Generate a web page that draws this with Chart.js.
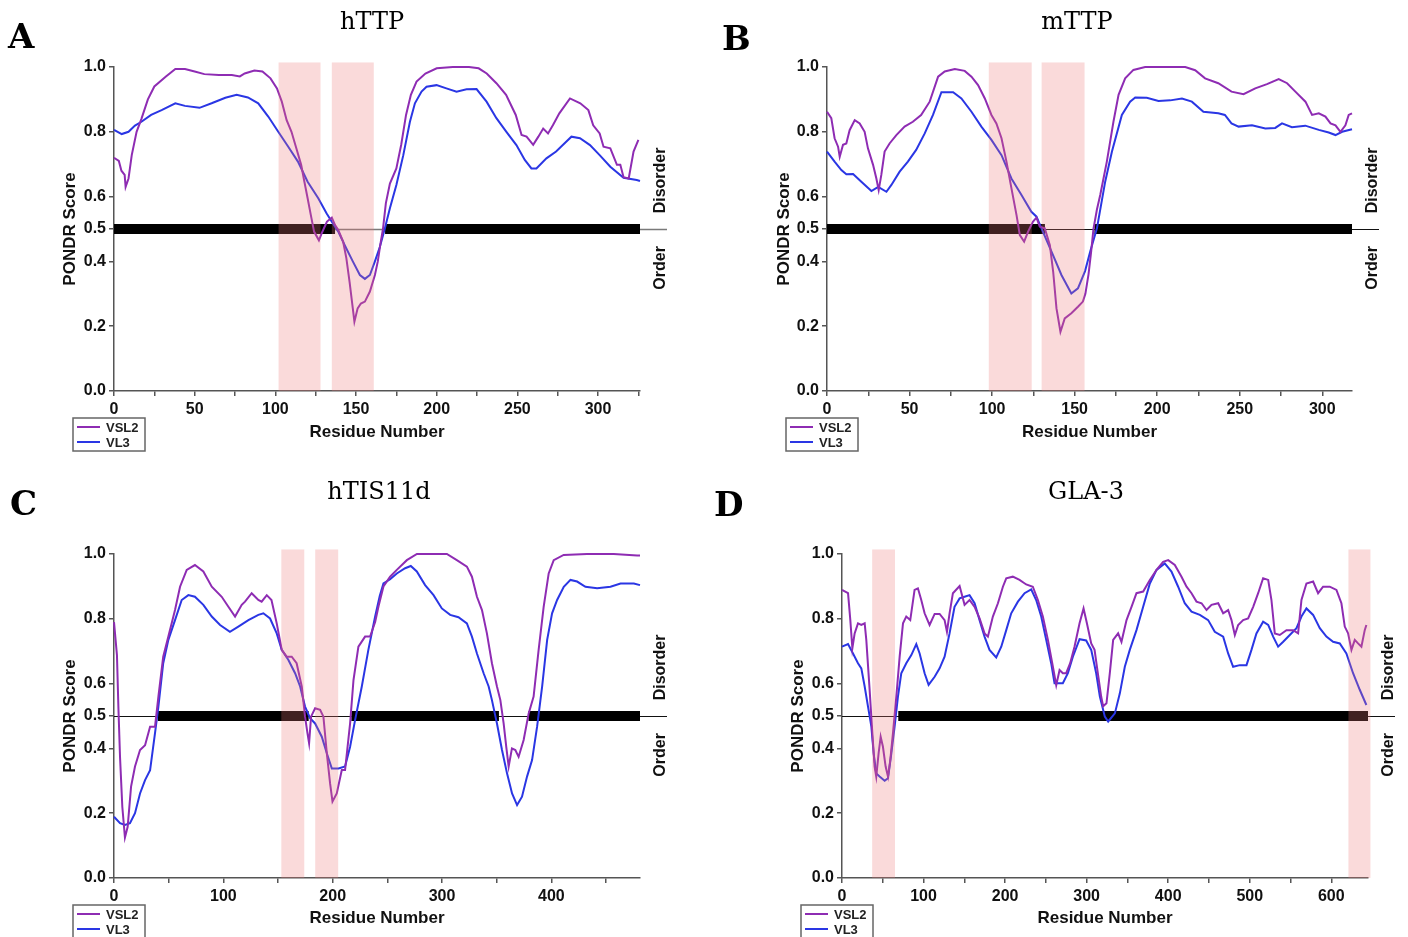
<!DOCTYPE html>
<html>
<head>
<meta charset="utf-8">
<script src="https://cdn.jsdelivr.net/npm/chart.js@4.4.1/dist/chart.umd.min.js"></script>
<style>
html,body{margin:0;padding:0;background:#fff;}
#wrap{position:relative;width:1408px;height:937px;overflow:hidden;background:#fff;}
#wrap canvas{position:absolute;}
</style>
</head>
<body>
<div id="wrap">
<canvas id="cA" width="704" height="468" style="left:0px;top:0px"></canvas>
<canvas id="cB" width="704" height="468" style="left:704px;top:0px"></canvas>
<canvas id="cC" width="704" height="469" style="left:0px;top:468px"></canvas>
<canvas id="cD" width="704" height="469" style="left:704px;top:468px"></canvas>
</div>
<script>
// ---------------- DATA ----------------
const SERIES_NAMES = ['VSL2', 'VL3'];
const Y_TICKS = [0, 0.2, 0.4, 0.5, 0.6, 0.8, 1.0];
const THRESHOLD = 0.5;
const SIDE_LABELS = ['Disorder', 'Order'];

// Panel A: hTTP
const hTTP_length = 326;
const hTTP_xTicks = [0, 50, 100, 150, 200, 250, 300];
const hTTP_vsl2_res = [0,3,4.6,6.6,7.2,9,11,14,17,21,25,32,38,44,50,56,65,73,78,81,87,92,97,101,104,107,110,113,116,118,120,122,124,127,129,132,135,137,139,142,144,146,148,149,151,153,155.5,158.6,161.7,163.5,165,166.7,168.5,171,175,178,181,184,187.5,193,200,210,220,226,231,237,243,249,252.6,255.7,259.8,263,266,269,272,276,282.6,289,294,297,301,303.4,307.6,311.7,313.8,315.8,319,322,325];
const hTTP_vsl2 = [0.72,0.71,0.68,0.667,0.63,0.656,0.728,0.80,0.84,0.90,0.94,0.97,0.994,0.994,0.986,0.978,0.975,0.975,0.971,0.98,0.989,0.986,0.965,0.934,0.893,0.836,0.80,0.749,0.698,0.646,0.595,0.543,0.492,0.465,0.49,0.523,0.535,0.512,0.497,0.461,0.41,0.337,0.255,0.214,0.255,0.27,0.276,0.307,0.358,0.40,0.45,0.50,0.58,0.64,0.687,0.76,0.852,0.914,0.955,0.98,0.996,1.0,1.0,0.996,0.98,0.95,0.914,0.852,0.79,0.785,0.76,0.785,0.81,0.795,0.82,0.857,0.903,0.888,0.867,0.82,0.795,0.754,0.749,0.698,0.698,0.66,0.656,0.739,0.775];
const hTTP_vl3_res = [0,4.8,9,13,17,23,29.5,38,44,53,60.5,69,76,83,89.4,95.6,101.8,108,114,120,126.6,131.8,134.9,139,143,148,152.4,155.5,158.6,161.7,164.8,167.9,171,175,179.3,183.4,186.5,190.6,193.7,199.9,206,212.3,218.5,224.7,230.9,237,243.2,249.4,254.6,258.7,261.8,268,274,280.4,283.5,288.8,295,301,307.6,315.8,324,326];
const hTTP_vl3 = [0.806,0.793,0.80,0.819,0.831,0.852,0.867,0.888,0.88,0.874,0.888,0.905,0.914,0.906,0.888,0.847,0.80,0.754,0.708,0.646,0.595,0.548,0.523,0.492,0.45,0.40,0.358,0.346,0.358,0.40,0.445,0.502,0.564,0.636,0.728,0.831,0.888,0.924,0.939,0.944,0.934,0.924,0.931,0.932,0.893,0.842,0.80,0.759,0.713,0.687,0.687,0.718,0.739,0.77,0.785,0.78,0.759,0.728,0.692,0.658,0.651,0.648];
const hTTP_bands = [[102,128],[135,161]];
const hTTP_disorder = [[0,137],[168,326]];

// Panel B: mTTP
const mTTP_length = 318;
const mTTP_xTicks = [0, 50, 100, 150, 200, 250, 300];
const mTTP_vsl2_res = [0,2.6,4.6,6.7,7.7,9.7,11.7,13.7,16.8,19.8,22.8,24.8,27.9,29.9,31.3,32.9,34.9,37.9,42,47,52,57,62.2,67.3,71.3,77.4,83.4,87.5,91.5,95.6,99.6,102.6,105.7,108.7,111.7,114.8,116.8,119.4,121.8,124.8,126.9,128.9,131.9,135,137,139,141.4,144,148,152,155,156.5,158.4,160,161.4,163.5,165.5,169.5,173.5,176.6,180.6,185.6,192.7,207,217,223,229,237,245,252.3,259.4,266.5,273.6,278.7,283.7,289.8,293.8,297.9,301.9,305,308,311,314,316,318];
const mTTP_vsl2 = [0.862,0.842,0.78,0.754,0.723,0.76,0.764,0.805,0.836,0.826,0.80,0.749,0.698,0.656,0.62,0.667,0.739,0.764,0.79,0.816,0.831,0.852,0.893,0.97,0.986,0.994,0.988,0.97,0.944,0.903,0.852,0.826,0.78,0.708,0.626,0.543,0.481,0.461,0.492,0.523,0.535,0.507,0.502,0.45,0.368,0.255,0.183,0.224,0.24,0.26,0.276,0.30,0.36,0.43,0.50,0.56,0.605,0.708,0.831,0.914,0.965,0.991,1.0,1.0,1.0,0.99,0.965,0.95,0.924,0.916,0.934,0.947,0.963,0.95,0.924,0.893,0.852,0.857,0.847,0.826,0.82,0.80,0.82,0.852,0.857];
const mTTP_vl3_res = [0,4.6,8.7,11.7,15.8,20.8,26.9,31,36,39,44,49,54,59.2,64.2,69.3,76.4,81.4,87.5,93.5,99.6,105.7,111.7,117.8,123.8,126.9,129.9,136,142,148,152,156.3,159.4,163.5,168.5,172.6,178.6,183.6,186.7,193.7,200.8,207.9,215,221,228,237,241,245,249.3,257.4,265.5,271.5,275.6,281.6,289.7,297.9,303.9,308,312,318];
const mTTP_vl3 = [0.739,0.708,0.682,0.669,0.67,0.646,0.617,0.63,0.615,0.636,0.677,0.708,0.744,0.795,0.852,0.922,0.922,0.903,0.862,0.816,0.775,0.728,0.656,0.605,0.553,0.538,0.502,0.43,0.358,0.301,0.317,0.37,0.43,0.502,0.646,0.739,0.852,0.893,0.906,0.905,0.895,0.897,0.903,0.893,0.862,0.857,0.852,0.826,0.816,0.82,0.81,0.812,0.826,0.814,0.819,0.806,0.798,0.79,0.80,0.808];
const mTTP_bands = [[98,124],[130,156]];
const mTTP_disorder = [[0,132],[162,318]];

// Panel C: hTIS11d
const hTIS11d_length = 481;
const hTIS11d_xTicks = [0, 100, 200, 300, 400];
const hTIS11d_vsl2_res = [0,2.7,4,5.5,7.6,10,12.5,15.6,19.2,23.8,28.4,33,37.5,40.6,45,49.7,55.8,60.4,66.5,74,81.7,89.4,98.5,104.6,110.7,116.8,119.8,125.9,132,135,139.7,144,148.8,153.4,157.9,162.5,167,171.7,174.7,176.9,178.4,180.2,183.9,188.5,191.5,194.6,197.6,199.8,203.7,208.3,211.3,215.9,219,223.5,229.6,234.2,238.8,242,246.4,252.5,258.6,267.8,277,289,304.4,313.5,322.7,327.3,331.9,336.5,341,345.6,350.2,353.3,356.3,358.7,360.9,363.9,367,370,374.6,379.2,383.7,388.3,392.9,397.5,402.1,411.2,432.6,457,478.4,481];
const hTIS11d_vsl2 = [0.79,0.688,0.529,0.374,0.22,0.125,0.158,0.282,0.344,0.395,0.41,0.467,0.467,0.56,0.683,0.745,0.827,0.899,0.951,0.966,0.946,0.899,0.868,0.837,0.807,0.843,0.853,0.879,0.858,0.853,0.873,0.858,0.786,0.704,0.683,0.683,0.663,0.591,0.498,0.447,0.416,0.498,0.524,0.519,0.498,0.385,0.292,0.236,0.261,0.333,0.333,0.477,0.611,0.714,0.745,0.745,0.79,0.84,0.90,0.93,0.951,0.981,1.0,1.0,1.0,0.981,0.961,0.93,0.868,0.827,0.755,0.663,0.591,0.549,0.477,0.405,0.344,0.40,0.395,0.374,0.426,0.508,0.56,0.704,0.837,0.94,0.981,0.997,1.0,1.0,0.995,0.995];
const hTIS11d_vl3_res = [0,5.5,10,14.6,19.2,23.8,28.4,33,37.5,40.6,45,49.7,55.8,61.9,68,74,81.7,89.4,97,106,113.7,122.9,132,136.6,142.7,148.8,153.4,159.5,165.6,170.2,174.7,179.3,183.9,190,194.6,199.2,205.3,211.3,215.9,220.5,226.6,232.6,238.8,243,246.4,252.5,258.6,266.2,271.4,276.9,284.5,292.2,299.8,307.4,315,322.7,327.3,331.9,338,342.6,345.6,350.2,354.8,359.4,364,368.6,373.1,377.7,382.3,386.9,391.5,396.1,400.6,405.2,411.3,417.4,423.5,431.1,441.8,454,463.2,475.4,481];
const hTIS11d_vl3 = [0.189,0.169,0.164,0.169,0.20,0.261,0.302,0.333,0.447,0.529,0.663,0.735,0.796,0.858,0.873,0.868,0.843,0.807,0.781,0.76,0.776,0.796,0.812,0.817,0.801,0.755,0.704,0.673,0.632,0.591,0.529,0.493,0.477,0.436,0.385,0.338,0.338,0.344,0.405,0.488,0.591,0.704,0.807,0.87,0.909,0.922,0.94,0.956,0.963,0.946,0.904,0.873,0.832,0.812,0.805,0.786,0.745,0.693,0.632,0.591,0.549,0.477,0.395,0.323,0.261,0.225,0.251,0.313,0.364,0.467,0.591,0.735,0.817,0.858,0.899,0.92,0.915,0.899,0.894,0.899,0.909,0.909,0.904];
const hTIS11d_bands = [[153,174],[184,205]];
const hTIS11d_disorder = [[40,178],[217,352],[379,481]];

// Panel D: GLA-3
const GLA3_length = 645;
const GLA3_xTicks = [0, 100, 200, 300, 400, 500, 600];
const GLA3_vsl2_res = [0,7.4,10.2,12.7,15.5,19.6,23.7,27.8,29.8,33.9,37.2,40,42,44.9,47.4,50.2,53.5,56.4,59.2,62.5,66.6,70.7,74.8,78.8,83.7,89,93.1,97.2,101.3,107.4,113.6,119.7,125.8,128.7,131.9,136,144.2,150.3,156.4,162.6,168.7,174.8,178.9,185,191.2,197.3,201.4,209.5,217.7,225.9,234,240.2,246.3,252.5,258.6,262.7,266.8,270.8,274.9,279.8,285.1,291.3,296.2,300.3,305.6,309.7,313.7,317.8,320.2,324.3,328.4,332.5,338.6,342.7,348.9,355,361.1,369.3,377.5,385.7,393.8,400,408.1,416.3,422.5,428.6,434.7,440.9,447,453.1,461.3,467.4,473.5,477.6,481.7,485.8,491.9,498,504.2,510.3,516.4,522.6,526.6,530.7,536.8,545,553.2,559.3,563.4,569.5,577.7,583.8,589.9,598.1,606.3,612.4,616.5,620.6,624.7,628.8,632.8,636.9,641,643];
const GLA3_vsl2 = [0.889,0.879,0.796,0.709,0.755,0.786,0.781,0.786,0.735,0.58,0.447,0.344,0.313,0.385,0.436,0.405,0.344,0.313,0.364,0.447,0.56,0.683,0.786,0.807,0.796,0.889,0.894,0.858,0.817,0.781,0.815,0.815,0.796,0.76,0.817,0.879,0.901,0.843,0.858,0.837,0.801,0.755,0.745,0.807,0.848,0.899,0.925,0.93,0.92,0.906,0.899,0.858,0.807,0.735,0.652,0.595,0.642,0.632,0.632,0.663,0.714,0.786,0.832,0.786,0.724,0.704,0.632,0.56,0.53,0.539,0.632,0.735,0.755,0.729,0.796,0.837,0.879,0.884,0.92,0.951,0.976,0.981,0.966,0.93,0.899,0.879,0.853,0.848,0.827,0.843,0.848,0.817,0.827,0.796,0.75,0.781,0.796,0.801,0.837,0.879,0.925,0.92,0.858,0.755,0.75,0.765,0.765,0.755,0.858,0.909,0.915,0.879,0.899,0.899,0.889,0.848,0.776,0.755,0.704,0.735,0.724,0.714,0.765,0.781];
const GLA3_vl3_res = [0,7.4,13.5,19.6,23.7,27.8,31.9,36,38.8,42,46.1,52.3,56.4,60.5,64.5,68.6,72.7,78.8,85,91.1,95.2,101.3,106.2,113.6,119.7,125.8,131.9,138,144.2,150.3,156.4,162.6,168.7,174.8,180.9,189.1,195.3,201.4,207.5,215.7,223.9,232,238.1,244.3,250.4,256.5,260.6,270.8,277,283.1,291.3,299.4,305.6,311.7,316.2,322.3,326.4,334.6,340.7,346.8,352.9,361.1,369.3,377.5,385.7,395.8,404,412.2,420.3,428.6,438.8,449,457.1,467.4,473.5,479.6,487.8,496,502.1,508.2,516.4,522.6,528.7,534.8,541,549.1,557.3,563.4,569.5,577.7,585.9,594,602.2,610.4,618.5,626.7,634.9,643];
const GLA3_vl3 = [0.714,0.722,0.693,0.663,0.647,0.591,0.529,0.467,0.385,0.323,0.313,0.30,0.308,0.385,0.467,0.56,0.632,0.663,0.688,0.722,0.693,0.632,0.596,0.621,0.647,0.683,0.755,0.837,0.863,0.868,0.873,0.848,0.796,0.745,0.704,0.681,0.714,0.765,0.817,0.853,0.879,0.891,0.858,0.807,0.735,0.663,0.601,0.601,0.632,0.683,0.737,0.733,0.704,0.632,0.56,0.498,0.483,0.508,0.57,0.652,0.704,0.765,0.837,0.909,0.951,0.971,0.946,0.899,0.848,0.822,0.812,0.796,0.76,0.745,0.693,0.652,0.657,0.657,0.704,0.755,0.791,0.781,0.745,0.714,0.729,0.75,0.771,0.807,0.832,0.812,0.771,0.745,0.729,0.724,0.693,0.632,0.581,0.534];
const GLA3_bands = [[37,65],[621,648]];
const GLA3_disorder = [[69,645]];

// ---------------- STYLE / LAYOUT ----------------
const COLOR_VSL2 = '#8e2cb3';
const COLOR_VL3 = '#2a36e4';
const SANS = '"Liberation Sans", Arial, Helvetica, sans-serif';
const SERIF = '"DejaVu Serif", "Liberation Serif", serif';
const BAND_TOP = 1.014;

const panels = [
  { id:'cA', letter:'A', title:'hTTP', len:hTTP_length, majors:hTTP_xTicks, step:25,
    vsl2:[hTTP_vsl2_res,hTTP_vsl2], vl3:[hTTP_vl3_res,hTTP_vl3], bands:hTTP_bands, dis:hTTP_disorder,
    cv:{left:0,top:0,w:704,h:468}, area:{l:114,r:640,t:67,b:391}, yTitleX:70, xTitleY:432,
    letterPos:[8,48], titlePos:[372,29], thresh:['#7a7a7a',1.5] },
  { id:'cB', letter:'B', title:'mTTP', len:mTTP_length, majors:mTTP_xTicks, step:25,
    vsl2:[mTTP_vsl2_res,mTTP_vsl2], vl3:[mTTP_vl3_res,mTTP_vl3], bands:mTTP_bands, dis:mTTP_disorder,
    cv:{left:704,top:0,w:704,h:468}, area:{l:827,r:1352,t:67,b:391}, yTitleX:784, xTitleY:432,
    letterPos:[722,50], titlePos:[1077,29], thresh:['#111',1] },
  { id:'cC', letter:'C', title:'hTIS11d', len:hTIS11d_length, majors:hTIS11d_xTicks, step:50,
    vsl2:[hTIS11d_vsl2_res,hTIS11d_vsl2], vl3:[hTIS11d_vl3_res,hTIS11d_vl3], bands:hTIS11d_bands, dis:hTIS11d_disorder,
    cv:{left:0,top:468,w:704,h:469}, area:{l:114,r:640,t:554,b:878}, yTitleX:70, xTitleY:918,
    letterPos:[10,515], titlePos:[379,499], thresh:['#111',1] },
  { id:'cD', letter:'D', title:'GLA-3', len:GLA3_length, majors:GLA3_xTicks, step:50,
    vsl2:[GLA3_vsl2_res,GLA3_vsl2], vl3:[GLA3_vl3_res,GLA3_vl3], bands:GLA3_bands, dis:GLA3_disorder,
    cv:{left:704,top:468,w:704,h:469}, area:{l:842,r:1368,t:554,b:878}, yTitleX:798, xTitleY:918,
    letterPos:[714,516], titlePos:[1086,499], thresh:['#111',1] }
];

const decor = {
  id: 'decor',
  beforeDatasetsDraw(chart, _args, o) {
    const {ctx, chartArea: a, scales: {y}} = chart;
    const yy = Math.round(y.getPixelForValue(THRESHOLD)) + 0.5;
    ctx.save();
    ctx.strokeStyle = o.threshColor; ctx.lineWidth = o.threshWidth;
    ctx.beginPath(); ctx.moveTo(a.left, yy); ctx.lineTo(a.right + 27, yy); ctx.stroke();
    ctx.restore();
  },
  afterDatasetsDraw(chart, _args, o) {
    const {ctx, chartArea: a, scales: {x, y}} = chart;
    ctx.save();
    // highlighted regions
    ctx.fillStyle = 'rgba(236,120,120,0.27)';
    const yt = y.getPixelForValue(BAND_TOP), yb = y.getPixelForValue(0);
    for (const [s, e] of o.bands) {
      const x0 = x.getPixelForValue(s), x1 = x.getPixelForValue(e);
      ctx.fillRect(x0, yt, x1 - x0, yb - yt);
    }
    // side labels
    ctx.fillStyle = '#111';
    ctx.font = 'bold 16px ' + SANS;
    ctx.textAlign = 'center'; ctx.textBaseline = 'middle';
    const sx = a.right + 21;
    [[SIDE_LABELS[0], 0.65], [SIDE_LABELS[1], 0.38]].forEach(([t, v]) => {
      ctx.save(); ctx.translate(sx, y.getPixelForValue(v)); ctx.rotate(-Math.PI / 2);
      ctx.fillText(t, 0, 0); ctx.restore();
    });
    // legend box
    const lx = a.left - 41, ly = a.bottom + 27;
    ctx.strokeStyle = '#666'; ctx.lineWidth = 1.5;
    ctx.strokeRect(lx, ly, 72, 33);
    const cols = [COLOR_VSL2, COLOR_VL3];
    ctx.font = 'bold 13px ' + SANS; ctx.textAlign = 'left';
    SERIES_NAMES.forEach((n, i) => {
      const yy = ly + 9 + i * 15;
      ctx.strokeStyle = cols[i]; ctx.lineWidth = 2;
      ctx.beginPath(); ctx.moveTo(lx + 4, yy); ctx.lineTo(lx + 27, yy); ctx.stroke();
      ctx.fillStyle = '#222'; ctx.fillText(n, lx + 33, yy + 1);
    });
    // panel letter and title
    ctx.fillStyle = '#000';
    ctx.textBaseline = 'alphabetic'; ctx.textAlign = 'left';
    ctx.font = 'bold 34px ' + SERIF;
    ctx.fillText(o.letter, o.letterX, o.letterY);
    ctx.textAlign = 'center';
    ctx.font = '24px ' + SERIF;
    ctx.fillText(o.title, o.titleX, o.titleY);
    ctx.restore();
  }
};

function toXY(res, vals) { return res.map((r, i) => ({x: r, y: vals[i]})); }
function barData(segs) {
  const out = [];
  segs.forEach(([s, e]) => { out.push({x: s, y: THRESHOLD}, {x: e, y: THRESHOLD}, {x: e, y: null}); });
  return out;
}

panels.forEach(p => {
  const c = p.cv;
  const aL = p.area.l - c.left, aR = p.area.r - c.left, aT = p.area.t - c.top, aB = p.area.b - c.top;
  const titleHalf = 17 * 1.2 / 2;
  const padLeft = (p.yTitleX - c.left) - titleHalf;
  const yW = aL - padLeft;
  const xBottom = (p.xTitleY - c.top) + titleHalf;
  const xH = xBottom - aB;
  const padBottom = c.h - xBottom;
  const axisCommon = {
    grid: { drawOnChartArea: false, drawTicks: true, tickLength: 5, color: '#555', lineWidth: 1.5 },
    border: { display: true, color: '#555', width: 1.5 }
  };
  new Chart(document.getElementById(p.id), {
    type: 'line',
    data: {
      datasets: [
        { label: SERIES_NAMES[0], data: toXY(p.vsl2[0], p.vsl2[1]), borderColor: COLOR_VSL2, borderWidth: 2,
          pointRadius: 0, tension: 0, fill: false, order: 1, clip: 4 },
        { label: SERIES_NAMES[1], data: toXY(p.vl3[0], p.vl3[1]), borderColor: COLOR_VL3, borderWidth: 2,
          pointRadius: 0, tension: 0, fill: false, order: 2, clip: 4 },
        { label: 'disorder', data: barData(p.dis), borderColor: '#000', borderWidth: 10, borderCapStyle: 'butt',
          pointRadius: 0, spanGaps: false, fill: false, order: 3 }
      ]
    },
    options: {
      responsive: false, animation: false, devicePixelRatio: 1, events: [],
      layout: { padding: { left: padLeft, top: aT, right: c.w - aR, bottom: padBottom } },
      plugins: {
        legend: { display: false }, tooltip: { enabled: false },
        decor: { bands: p.bands, letter: p.letter, title: p.title,
          letterX: p.letterPos[0] - c.left, letterY: p.letterPos[1] - c.top,
          titleX: p.titlePos[0] - c.left, titleY: p.titlePos[1] - c.top,
          threshColor: p.thresh[0], threshWidth: p.thresh[1] }
      },
      scales: {
        x: Object.assign({
          type: 'linear', min: 0, max: p.len,
          ticks: { stepSize: p.step, autoSkip: false, includeBounds: false, maxRotation: 0, minRotation: 0, padding: 4,
            color: '#111', font: { family: SANS, size: 16, weight: 'bold' },
            callback: v => p.majors.includes(v) ? String(v) : '' },
          title: { display: true, text: 'Residue Number', color: '#111', padding: 0,
            font: { family: SANS, size: 17, weight: 'bold' } },
          afterFit: s => { s.height = xH; }
        }, axisCommon),
        y: Object.assign({
          type: 'linear', min: 0, max: 1,
          afterBuildTicks: s => { s.ticks = Y_TICKS.map(v => ({value: v})); },
          ticks: { padding: 3, color: '#111', font: { family: SANS, size: 16, weight: 'bold' },
            callback: v => Number(v).toFixed(1) },
          title: { display: true, text: 'PONDR Score', color: '#111', padding: 0,
            font: { family: SANS, size: 17, weight: 'bold' } },
          afterFit: s => { s.width = yW; }
        }, axisCommon)
      }
    },
    plugins: [decor]
  });
});
</script>
</body>
</html>
